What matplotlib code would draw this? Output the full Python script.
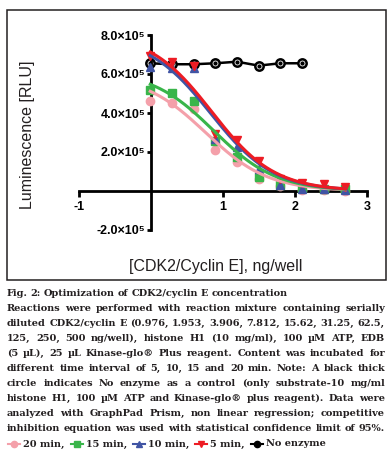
import numpy as np
import matplotlib
matplotlib.use("Agg")
import matplotlib.pyplot as plt
from matplotlib.lines import Line2D
from matplotlib.patches import Rectangle

# CDK2/cyclin E amount per well (ng) and luminescence (x1e5 RLU)
conc = [0.976, 1.953, 3.906, 7.812, 15.62, 31.25, 62.5, 125, 250, 500]
lum_20 = [4.60, 4.52, 4.19, 2.11, 1.48, 0.64, 0.25, 0.05, 0.03, 0.02]
lum_15 = [5.20, 5.03, 4.60, 2.55, 1.74, 0.72, 0.30, 0.15, 0.12, 0.10]
lum_10 = [6.38, 6.29, 6.29, 2.67, 2.24, 1.15, 0.30, 0.10, 0.08, 0.05]
lum_5 = [6.90, 6.60, 6.40, 2.92, 2.62, 1.52, 0.64, 0.40, 0.35, 0.22]
lum_none = [6.55, 6.50, 6.50, 6.55, 6.63, 6.43, 6.55, 6.55]

# fitted curve parameters as drawn (top x1e5 RLU, log IC50)
fit_20 = (5.98, 0.76)
fit_15 = (6.19, 0.87)
fit_10 = (7.95, 0.83)
fit_5 = (8.12, 0.845)

x_ticks = [-1, 1, 2, 3]
y_ticks = [-2e5, 2e5, 4e5, 6e5, 8e5]
y_tick_labels = ["-2.0×10⁵", "2.0×10⁵", "4.0×10⁵", "6.0×10⁵", "8.0×10⁵"]

caption = [
    "Fig. 2: Optimization of CDK2/cyclin E concentration",
    "Reactions were performed with reaction mixture containing serially",
    "diluted CDK2/cyclin E (0.976, 1.953, 3.906, 7.812, 15.62, 31.25, 62.5,",
    "125, 250, 500 ng/well), histone H1 (10 mg/ml), 100 µM ATP, EDB",
    "(5 µL), 25 µL Kinase-glo® Plus reagent. Content was incubated for",
    "different time interval of 5, 10, 15 and 20 min. Note: A black thick",
    "circle indicates No enzyme as a control (only substrate-10 mg/ml",
    "histone H1, 100 µM ATP and Kinase-glo® plus reagent). Data were",
    "analyzed with GraphPad Prism, non linear regression; competitive",
    "inhibition equation was used with statistical confidence limit of 95%.",
]

PINK, GREEN, BLUE, RED = "#f4a0aa", "#39b54a", "#4054a4", "#ed1c24"
series = [("20 min", lum_20, fit_20, PINK, "o"), ("15 min", lum_15, fit_15, GREEN, "s"),
          ("10 min", lum_10, fit_10, BLUE, "^"), ("5 min", lum_5, fit_5, RED, "v")]

W, H = 390, 458
fig = plt.figure(figsize=(W / 100, H / 100), dpi=100)
fig.patch.set_facecolor("white")

def fx(px):
    return px / W

def fy(py):
    return 1 - py / H

ax = fig.add_axes([fx(79), fy(230), fx(367) - fx(79), fy(35) - fy(230)])
ax.set_xlim(-1, 3)
ax.set_ylim(-2e5, 8e5)
for s in ["top", "right"]:
    ax.spines[s].set_visible(False)
ax.spines["left"].set_position(("data", 0))
ax.spines["bottom"].set_position(("data", 0))
for s in ["left", "bottom"]:
    ax.spines[s].set_linewidth(2)
ax.set_xticks(x_ticks)
ax.set_xticklabels([str(t) for t in x_ticks])
ax.set_yticks(y_ticks)
ax.set_yticklabels(y_tick_labels)
ax.tick_params(axis="x", direction="out", length=4.5, width=2, pad=3)
ax.tick_params(axis="y", direction="out", length=3, width=2, pad=1)
for lab in ax.get_xticklabels() + ax.get_yticklabels():
    lab.set_fontfamily(["Liberation Sans", "DejaVu Sans"])
    lab.set_fontweight("bold")
    lab.set_fontsize(9)

xs = np.log10(conc)

# no enzyme control
xn = xs[:len(lum_none)]
yn = np.array(lum_none) * 1e5
ax.plot(xn, yn, color="black", lw=1.8, zorder=2, clip_on=False)
ax.plot(xn, yn, "o", ms=6, mfc="white", mec="black", mew=1.8, zorder=2, clip_on=False)
ax.plot(xn, yn, "o", ms=2, color="black", zorder=2, clip_on=False)

# one-site competitive curve: y = top / (1 + 10^(x - logIC50))
xx = np.linspace(xs.min(), xs.max(), 200)
for name, vals, fit, col, mk in series:
    ax.plot(xs, np.array(vals) * 1e5, mk, ms=6, color=col, zorder=3, clip_on=False)
for name, vals, fit, col, mk in series:
    top, logic50 = fit
    yy = top * 1e5 / (1 + 10 ** (xx - logic50))
    ax.plot(xx, yy, color=col, lw=2.2, zorder=4, clip_on=False)

fig.text(fx(28), fy(135), "Luminescence [RLU]", rotation=90, ha="center", va="center",
         fontsize=11.5, family="Liberation Sans", color="#231f20")
fig.text(fx(216), fy(267), "[CDK2/Cyclin E], ng/well", ha="center", va="center",
         fontsize=11.5, family="Liberation Sans", color="#231f20")

fig.add_artist(Rectangle((fx(7), fy(280)), fx(386) - fx(7), fy(10) - fy(280),
                         transform=fig.transFigure, fill=False, lw=1.1, ec="#231f20"))

# caption: pick a size so the fullest line fits, then justify
renderer = fig.canvas.get_renderer()
x0, x1 = 7, 385
cap_font = dict(family="DejaVu Serif", fontweight="bold", color="#231f20",
                va="center", ha="left")
ratios = []
for line in caption[1:]:
    t = fig.text(0, 0, line, fontsize=10, **cap_font)
    ratios.append((x1 - x0) / t.get_window_extent(renderer).width)
    t.remove()
fs = 10 * min(ratios)
cap_kw = dict(fontsize=fs, **cap_font)

y0, dy = 293, 15.1
for k, line in enumerate(caption):
    words = line.split(" ")
    texts = [fig.text(0, fy(y0 + k * dy), w, **cap_kw) for w in words]
    widths = [t.get_window_extent(renderer).width for t in texts]
    gap = (x1 - x0 - sum(widths)) / (len(words) - 1) if k > 0 else fs * 0.3 * 100 / 72
    x = x0
    for t, w in zip(texts, widths):
        t.set_x(fx(x))
        x += w + gap

# legend row
legend_items = [(s[0], s[3], s[4]) for s in series] + [("No enzyme", "black", "o")]
yl = y0 + len(caption) * dy
x = 8
for k, (name, col, mk) in enumerate(legend_items):
    fig.add_artist(Line2D([fx(x), fx(x + 12)], [fy(yl), fy(yl)], color=col, lw=1.5,
                          transform=fig.transFigure))
    fig.add_artist(Line2D([fx(x + 6)], [fy(yl)], marker=mk, ms=4.5, color=col, lw=0,
                          transform=fig.transFigure))
    label = name + ("," if k < len(legend_items) - 1 else "")
    t = fig.text(fx(x + 15), fy(yl), label, **cap_kw)
    x = x + 15 + t.get_window_extent(renderer).width + 6

fig.savefig("out.png", dpi=100)
